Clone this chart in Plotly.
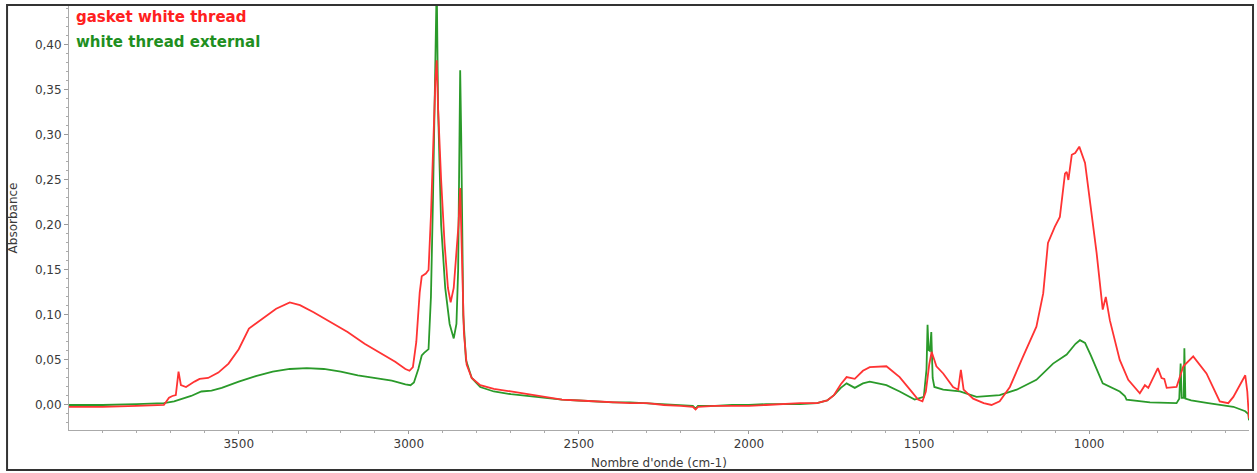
import plotly.graph_objects as go

# ---- data ----
red_name = "gasket white thread"
green_name = "white thread external"

red_wn = [3999, 3900, 3800, 3720, 3705, 3695, 3685, 3677, 3670, 3655, 3630, 3615, 3590, 3560,
          3530, 3500, 3470, 3430, 3390, 3350, 3320, 3280, 3230, 3180, 3130, 3080, 3040, 3010,
          2998, 2988, 2978, 2968, 2962, 2950, 2942, 2935, 2928, 2922, 2918, 2914, 2905, 2895,
          2885, 2877, 2868, 2860, 2854, 2849, 2845, 2838, 2830, 2815, 2790, 2750, 2700, 2650,
          2600, 2550, 2500, 2450, 2400, 2350, 2300, 2250, 2200, 2165, 2157, 2150, 2100, 2050,
          2000, 1950, 1900, 1850, 1800, 1770, 1750, 1730, 1713, 1700, 1689, 1665, 1645, 1596,
          1557, 1520, 1503, 1490, 1480, 1470, 1463, 1455, 1449, 1429, 1400, 1385, 1377, 1369,
          1341, 1310, 1287, 1263, 1233, 1194, 1155, 1135, 1121, 1101, 1086, 1071, 1066, 1061,
          1051, 1041, 1029, 1012, 997, 978, 960, 951, 939, 910, 885, 851, 836, 826, 798, 787,
          779, 772, 743, 723, 694, 655, 616, 591, 576, 541, 535, 530]
red_abs = [-0.002, -0.002, -0.001, 0.000, 0.008, 0.010, 0.011, 0.037, 0.022, 0.020, 0.026, 0.029,
           0.030, 0.036, 0.046, 0.062, 0.085, 0.096, 0.107, 0.114, 0.111, 0.103, 0.092, 0.081,
           0.068, 0.057, 0.048, 0.040, 0.038, 0.042, 0.070, 0.125, 0.143, 0.146, 0.150, 0.210,
           0.300, 0.360, 0.383, 0.330, 0.250, 0.180, 0.130, 0.114, 0.130, 0.165, 0.200, 0.241,
           0.180, 0.080, 0.045, 0.030, 0.022, 0.018, 0.015, 0.012, 0.009, 0.006, 0.005, 0.004,
           0.003, 0.002, 0.002, 0.000, -0.001, -0.002, -0.005, -0.002, -0.001, -0.001, -0.001,
           0.000, 0.001, 0.002, 0.002, 0.005, 0.011, 0.023, 0.031, 0.030, 0.029, 0.038, 0.042,
           0.043, 0.031, 0.014, 0.006, 0.004, 0.015, 0.045, 0.059, 0.050, 0.043, 0.035, 0.020,
           0.017, 0.039, 0.017, 0.007, 0.002, 0.000, 0.004, 0.020, 0.054, 0.087, 0.124, 0.180,
           0.198, 0.209, 0.257, 0.259, 0.250, 0.278, 0.280, 0.287, 0.269, 0.224, 0.169, 0.106,
           0.120, 0.094, 0.050, 0.028, 0.013, 0.022, 0.019, 0.041, 0.030, 0.029, 0.019, 0.020,
           0.043, 0.054, 0.035, 0.004, 0.002, 0.009, 0.033, 0.015, -0.015]

green_wn = [3999, 3900, 3800, 3720, 3690, 3672, 3660, 3640, 3610, 3580, 3550, 3500, 3450, 3400,
            3350, 3300, 3250, 3200, 3150, 3100, 3050, 3010, 2995, 2985, 2972, 2962, 2955, 2942,
            2935, 2929, 2922, 2918, 2914, 2905, 2893, 2880, 2868, 2860, 2855, 2851, 2849, 2846,
            2840, 2832, 2815, 2790, 2750, 2700, 2650, 2600, 2550, 2500, 2450, 2400, 2350, 2300,
            2250, 2200, 2165, 2157, 2150, 2100, 2050, 2000, 1950, 1900, 1850, 1800, 1770, 1750,
            1730, 1713, 1700, 1689, 1665, 1645, 1596, 1557, 1513, 1486, 1478, 1475, 1472, 1468,
            1464, 1460, 1455, 1429, 1380, 1331, 1263, 1213, 1155, 1106, 1066, 1040, 1027, 1012,
            995, 978, 960, 910, 895, 890, 821, 743, 735, 731, 728, 722, 720, 717, 700, 650, 616,
            576, 541, 532, 530]
green_abs = [0.000, 0.000, 0.001, 0.002, 0.004, 0.006, 0.007, 0.010, 0.015, 0.016, 0.019, 0.026,
             0.032, 0.037, 0.040, 0.041, 0.040, 0.037, 0.033, 0.030, 0.027, 0.023, 0.022, 0.025,
             0.040, 0.055, 0.058, 0.062, 0.120, 0.228, 0.350, 0.470, 0.330, 0.200, 0.130, 0.090,
             0.074, 0.090, 0.150, 0.300, 0.372, 0.300, 0.100, 0.050, 0.030, 0.020, 0.015, 0.012,
             0.010, 0.008, 0.006, 0.005, 0.004, 0.003, 0.003, 0.002, 0.001, 0.000, -0.001, -0.004,
             -0.001, -0.001, 0.000, 0.000, 0.001, 0.001, 0.001, 0.002, 0.005, 0.011, 0.019, 0.024,
             0.021, 0.019, 0.024, 0.026, 0.022, 0.015, 0.006, 0.009, 0.040, 0.089, 0.061, 0.060,
             0.081, 0.030, 0.020, 0.017, 0.015, 0.009, 0.011, 0.017, 0.028, 0.046, 0.056, 0.068,
             0.072, 0.069, 0.055, 0.039, 0.024, 0.015, 0.010, 0.006, 0.003, 0.002, 0.007, 0.046,
             0.008, 0.008, 0.063, 0.007, 0.005, 0.002, 0.000, -0.002, -0.007, -0.010, -0.017]

y_tickvals = [0.00, 0.05, 0.10, 0.15, 0.20, 0.25, 0.30, 0.35, 0.40]
y_ticktext = ["0,00", "0,05", "0,10", "0,15", "0,20", "0,25", "0,30", "0,35", "0,40"]
x_tickvals = [3500, 3000, 2500, 2000, 1500, 1000]
x_ticktext = ["3500", "3000", "2500", "2000", "1500", "1000"]

RED = "#ff3333"
GREEN = "#2a9a2a"
FONT = "DejaVu Sans, Verdana, sans-serif"

fig = go.Figure()
fig.add_trace(go.Scatter(x=green_wn, y=green_abs, mode="lines", name=green_name,
                         line=dict(color=GREEN, width=1.8)))
fig.add_trace(go.Scatter(x=red_wn, y=red_abs, mode="lines", name=red_name,
                         line=dict(color=RED, width=1.8)))

fig.update_layout(
    width=1257, height=473,
    margin=dict(l=69, r=8, t=6, b=43),
    paper_bgcolor="white", plot_bgcolor="white",
    showlegend=False,
    font=dict(family=FONT, color="#3a3a3a"),
)
fig.update_xaxes(
    range=[3999, 530],
    tickmode="array", tickvals=x_tickvals, ticktext=x_ticktext,
    tickfont=dict(size=12, color="#3a3a3a"),
    ticks="outside", ticklen=3, tickcolor="#999",
    showline=True, linecolor="#aaaaaa", linewidth=1,
    showgrid=False, zeroline=False,
    minor=dict(tickmode="linear", tick0=0, dtick=100, ticks="outside", ticklen=2, tickcolor="#aaa"),
    title=dict(text="Nombre d'onde (cm-1)", font=dict(size=12, color="#3a3a3a"), standoff=8),
)
fig.update_yaxes(
    range=[-0.0278, 0.4433],
    tickmode="array", tickvals=y_tickvals, ticktext=y_ticktext,
    tickfont=dict(size=12, color="#3a3a3a"),
    ticks="outside", ticklen=4, tickcolor="#999",
    showline=True, linecolor="#aaaaaa", linewidth=1,
    showgrid=False, zeroline=False,
    minor=dict(tickmode="linear", tick0=0, dtick=0.01, ticks="outside", ticklen=2, tickcolor="#aaa"),
    title=dict(text="Absorbance", font=dict(size=12, color="#3a3a3a"), standoff=14),
)

# outer frame of the figure
fig.add_shape(type="rect", xref="paper", yref="paper",
              x0=-0.0525, x1=1.0034, y0=-0.0943, y1=1.0024,
              line=dict(color="#333333", width=2), fillcolor="rgba(0,0,0,0)", layer="above")

# legend text in the plot's top-left corner
fig.add_annotation(xref="paper", yref="paper", x=0.004, y=0.975, xanchor="left", yanchor="middle",
                   text="<b>" + red_name + "</b>", showarrow=False,
                   font=dict(size=15, color="#ff2020", family=FONT))
fig.add_annotation(xref="paper", yref="paper", x=0.004, y=0.915, xanchor="left", yanchor="middle",
                   text="<b>" + green_name + "</b>", showarrow=False,
                   font=dict(size=15, color="#1f8f1f", family=FONT))

fig.write_html("out.html", config={"displayModeBar": False},
               post_script="document.body.style.margin='0';")
